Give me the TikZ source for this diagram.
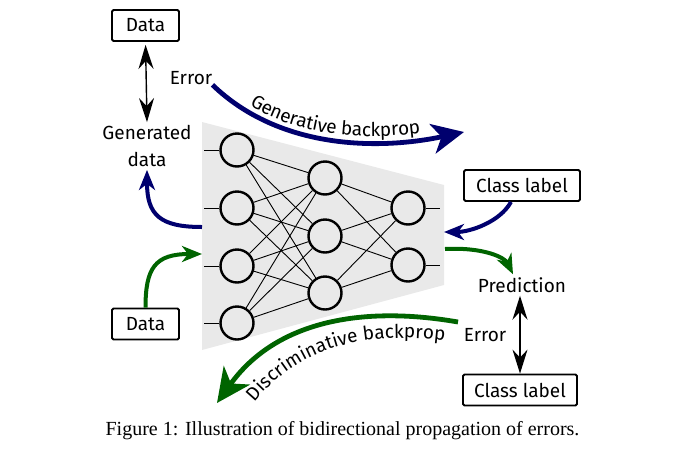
\documentclass[tikz,border=0pt]{standalone}
\usepackage{fontspec}
\setmainfont{Liberation Serif}
\newfontfamily\labelfont{Fira Sans}
\usetikzlibrary{arrows.meta,decorations.text}
\definecolor{myblue}{RGB}{0,0,110}
\definecolor{mygreen}{RGB}{0,100,0}
\definecolor{netgray}{RGB}{233,233,233}
\tikzset{
  lbl/.style={font=\labelfont\fontsize{19}{27}\selectfont, inner sep=0pt},
  lblbox/.style={draw, line width=1.8pt, rounded corners=1.5pt, font=\labelfont\fontsize{19}{27}\selectfont, minimum height=31pt, inner sep=0pt},
  neuron/.style={circle, draw, line width=2.4pt, minimum size=33pt, inner sep=0pt},
  conn/.style={line width=0.9pt},
  dbl/.style={line width=1.4pt, {Stealth[length=24pt,width=15pt,inset=8pt]}-{Stealth[length=24pt,width=15pt,inset=8pt]}},
  bigblue/.style={draw=myblue, line width=4.8pt, -{Stealth[length=32pt,width=30pt,inset=9pt]}},
  smallblue/.style={draw=myblue, line width=4pt, -{Stealth[length=20pt,width=16pt,inset=6pt]}},
  biggreen/.style={draw=mygreen, line width=4.8pt, -{Stealth[length=34pt,width=32pt,inset=10pt]}},
  smallgreen/.style={draw=mygreen, line width=4pt, -{Stealth[length=20pt,width=16pt,inset=6pt]}},
}
\begin{document}
\begin{tikzpicture}[x=1pt,y=-1pt]
\useasboundingbox (0,0) rectangle (690,453);
% network background
\fill[netgray] (202,122) -- (444,185) -- (444,285) -- (202,350) -- cycle;
% neurons
\node[neuron] (i1) at (237,150) {};
\node[neuron] (i2) at (237,208) {};
\node[neuron] (i3) at (237,266) {};
\node[neuron] (i4) at (237,323) {};
\node[neuron] (h1) at (325,178) {};
\node[neuron] (h2) at (325,236) {};
\node[neuron] (h3) at (325,293) {};
\node[neuron] (o1) at (408,208) {};
\node[neuron] (o2) at (408,265) {};
\foreach \i in {i1,i2,i3,i4} {
  \draw[conn] (\i.west) -- ++(-15,0);
  \foreach \h in {h1,h2,h3} { \draw[conn] (\i) -- (\h); }
}
\foreach \h in {h1,h2,h3} {
  \foreach \o in {o1,o2} { \draw[conn] (\h) -- (\o); }
}
\foreach \o in {o1,o2} { \draw[conn] (\o.east) -- ++(14,0); }
% labels and boxes
\node[lblbox, minimum width=67pt] (data1) at (145.5,25.5) {Data};
\node[lbl] (err1) at (191,78) {Error};
\node[lbl, align=center, inner sep=3pt] (gen) at (147,146) {Generated\\data};
\node[lblbox, minimum width=116pt] (cl1) at (522,185.5) {Class label};
\node[lblbox, minimum width=67pt] (data2) at (145.5,324) {Data};
\node[lbl, inner sep=3pt] (pred) at (522,285) {Prediction};
\node[lbl] (err2) at (485,335) {Error};
\node[lblbox, minimum width=114pt] (cl2) at (520,390) {Class label};
% free ends on the network
\coordinate (genend) at (464,132);
\coordinate (gdstart) at (202,227);
\coordinate (dataend) at (202,254);
\coordinate (clend) at (444,232);
\coordinate (predstart) at (445,249);
\coordinate (discstart) at (458,322);
\coordinate (discend) at (217,403);
% double arrows
\draw[dbl, shorten <=3pt] (data1.south) -- (gen.north);
\draw[dbl] (cl2.north) -- (cl2.north |- pred.south);
% generative backprop
\draw[bigblue] (err1.south east) .. controls (280,150) and (380,150) .. (genend);
\path[decorate, decoration={text along path, text align=center, raise=6pt,
  text={|\labelfont\fontsize{19}{27}\selectfont|Generative backprop}}]
  (err1.south east) .. controls (280,150) and (380,150) .. (genend);
\draw[smallblue] (gdstart) .. controls (160,227) and (147,215) .. (gen.south);
\draw[smallblue] ([xshift=-11pt]cl1.south) .. controls (500,222) and (470,232) .. (clend);
% discriminative
\draw[smallgreen] (data2.north) .. controls (145.5,268) and (155,254) .. (dataend);
\draw[smallgreen] (predstart) .. controls (485,247) and (505,258) .. ([xshift=-9pt]pred.north);
\draw[biggreen] (discstart) .. controls (360,305) and (275,322) .. (discend);
\path[decorate, decoration={text along path, text align={left indent=20pt},
  text={|\labelfont\fontsize{19}{27}\selectfont|Discriminative backprop}}]
  (242,418) .. controls (293,344) and (368,328) .. (464,343);
% caption
\node[font=\fontsize{20}{22}\selectfont, inner sep=0pt] (cap) at (342.5,431) {Figure 1: Illustration of bidirectional propagation of errors.};
\end{tikzpicture}
\end{document}
